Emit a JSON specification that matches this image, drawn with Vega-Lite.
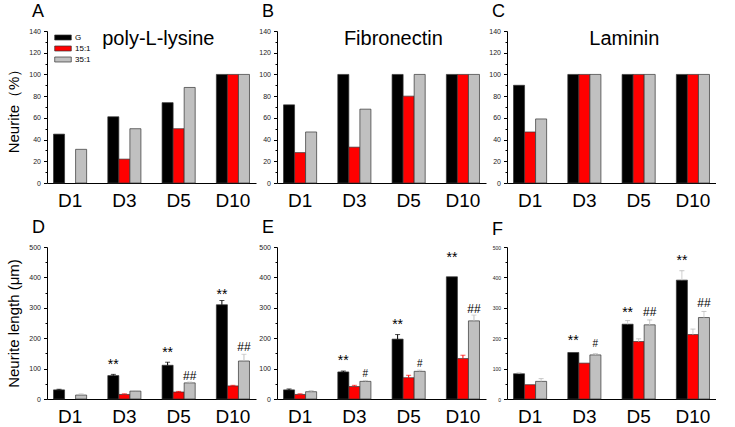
{
  "$schema": "https://vega.github.io/schema/vega-lite/v6.json",
  "padding": {"left": 6, "top": 3, "right": 0, "bottom": 0},
  "background": "white",
  "config": {
    "font": "Liberation Sans",
    "view": {"stroke": null},
    "axis": {"grid": false, "domainColor": "#000", "tickColor": "#000", "labelColor": "#222", "titleColor": "#000", "domainWidth": 1},
    "axisX": {"labelAngle": 0, "labelFontSize": 19, "ticks": false, "labelPadding": 8, "labelColor": "#000"},
    "axisY": {"labelFontSize": 7, "labelPadding": 3, "titleFontSize": 15, "titleFontWeight": "normal", "titlePadding": 7, "labelOverlap": false},
    "title": {"fontSize": 18, "fontWeight": "normal", "anchor": "start", "frame": "group", "dx": -15, "offset": 6, "color": "#000"},
    "legend": {"orient": "none", "legendX": 7, "legendY": 2, "padding": 0, "symbolType": "M-1,-0.3H1V0.3H-1Z", "symbolSize": 275, "symbolStrokeColor": "#333", "symbolStrokeWidth": 0.7, "symbolOpacity": 1, "labelFontSize": 8, "labelOffset": 3, "clipHeight": 9, "rowPadding": 2}
  },
  "datasets": {
    "pct": [
      {"panel": "A", "day": "D1", "group": "G", "v": 45},
      {"panel": "A", "day": "D1", "group": "35:1", "v": 31},
      {"panel": "A", "day": "D3", "group": "G", "v": 61},
      {"panel": "A", "day": "D3", "group": "15:1", "v": 22},
      {"panel": "A", "day": "D3", "group": "35:1", "v": 50},
      {"panel": "A", "day": "D5", "group": "G", "v": 74},
      {"panel": "A", "day": "D5", "group": "15:1", "v": 50},
      {"panel": "A", "day": "D5", "group": "35:1", "v": 88},
      {"panel": "A", "day": "D10", "group": "G", "v": 100},
      {"panel": "A", "day": "D10", "group": "15:1", "v": 100},
      {"panel": "A", "day": "D10", "group": "35:1", "v": 100},
      {"panel": "B", "day": "D1", "group": "G", "v": 72},
      {"panel": "B", "day": "D1", "group": "15:1", "v": 28},
      {"panel": "B", "day": "D1", "group": "35:1", "v": 47},
      {"panel": "B", "day": "D3", "group": "G", "v": 100},
      {"panel": "B", "day": "D3", "group": "15:1", "v": 33},
      {"panel": "B", "day": "D3", "group": "35:1", "v": 68},
      {"panel": "B", "day": "D5", "group": "G", "v": 100},
      {"panel": "B", "day": "D5", "group": "15:1", "v": 80},
      {"panel": "B", "day": "D5", "group": "35:1", "v": 100},
      {"panel": "B", "day": "D10", "group": "G", "v": 100},
      {"panel": "B", "day": "D10", "group": "15:1", "v": 100},
      {"panel": "B", "day": "D10", "group": "35:1", "v": 100},
      {"panel": "C", "day": "D1", "group": "G", "v": 90},
      {"panel": "C", "day": "D1", "group": "15:1", "v": 47},
      {"panel": "C", "day": "D1", "group": "35:1", "v": 59},
      {"panel": "C", "day": "D3", "group": "G", "v": 100},
      {"panel": "C", "day": "D3", "group": "15:1", "v": 100},
      {"panel": "C", "day": "D3", "group": "35:1", "v": 100},
      {"panel": "C", "day": "D5", "group": "G", "v": 100},
      {"panel": "C", "day": "D5", "group": "15:1", "v": 100},
      {"panel": "C", "day": "D5", "group": "35:1", "v": 100},
      {"panel": "C", "day": "D10", "group": "G", "v": 100},
      {"panel": "C", "day": "D10", "group": "15:1", "v": 100},
      {"panel": "C", "day": "D10", "group": "35:1", "v": 100}
    ],
    "len": [
      {"panel": "D", "day": "D1", "group": "G", "v": 30, "hi": 32},
      {"panel": "D", "day": "D1", "group": "35:1", "v": 13, "hi": 17},
      {"panel": "D", "day": "D3", "group": "G", "v": 77, "hi": 81},
      {"panel": "D", "day": "D3", "group": "15:1", "v": 15, "hi": 17},
      {"panel": "D", "day": "D3", "group": "35:1", "v": 26, "hi": 28},
      {"panel": "D", "day": "D5", "group": "G", "v": 111, "hi": 121},
      {"panel": "D", "day": "D5", "group": "15:1", "v": 23, "hi": 25},
      {"panel": "D", "day": "D5", "group": "35:1", "v": 53, "hi": 56},
      {"panel": "D", "day": "D10", "group": "G", "v": 310, "hi": 324},
      {"panel": "D", "day": "D10", "group": "15:1", "v": 43, "hi": 45},
      {"panel": "D", "day": "D10", "group": "35:1", "v": 125, "hi": 147},
      {"panel": "E", "day": "D1", "group": "G", "v": 30, "hi": 33},
      {"panel": "E", "day": "D1", "group": "15:1", "v": 15, "hi": 17},
      {"panel": "E", "day": "D1", "group": "35:1", "v": 24, "hi": 28},
      {"panel": "E", "day": "D3", "group": "G", "v": 89, "hi": 92},
      {"panel": "E", "day": "D3", "group": "15:1", "v": 41, "hi": 45},
      {"panel": "E", "day": "D3", "group": "35:1", "v": 58, "hi": 61},
      {"panel": "E", "day": "D5", "group": "G", "v": 197, "hi": 212},
      {"panel": "E", "day": "D5", "group": "15:1", "v": 70, "hi": 78},
      {"panel": "E", "day": "D5", "group": "35:1", "v": 91, "hi": 95},
      {"panel": "E", "day": "D10", "group": "G", "v": 402, "hi": null},
      {"panel": "E", "day": "D10", "group": "15:1", "v": 133, "hi": 144},
      {"panel": "E", "day": "D10", "group": "35:1", "v": 257, "hi": 276},
      {"panel": "F", "day": "D1", "group": "G", "v": 83, "hi": 86},
      {"panel": "F", "day": "D1", "group": "15:1", "v": 47, "hi": null},
      {"panel": "F", "day": "D1", "group": "35:1", "v": 58, "hi": 67},
      {"panel": "F", "day": "D3", "group": "G", "v": 153, "hi": null},
      {"panel": "F", "day": "D3", "group": "15:1", "v": 118, "hi": null},
      {"panel": "F", "day": "D3", "group": "35:1", "v": 145, "hi": 149},
      {"panel": "F", "day": "D5", "group": "G", "v": 246, "hi": 258},
      {"panel": "F", "day": "D5", "group": "15:1", "v": 189, "hi": 198},
      {"panel": "F", "day": "D5", "group": "35:1", "v": 244, "hi": 260},
      {"panel": "F", "day": "D10", "group": "G", "v": 391, "hi": 422},
      {"panel": "F", "day": "D10", "group": "15:1", "v": 212, "hi": 230},
      {"panel": "F", "day": "D10", "group": "35:1", "v": 268, "hi": 288}
    ],
    "ann": [
      {"panel": "D", "day": "D3", "group": "G", "label": "**", "ly": 113},
      {"panel": "D", "day": "D5", "group": "G", "label": "**", "ly": 152},
      {"panel": "D", "day": "D10", "group": "G", "label": "**", "ly": 342},
      {"panel": "D", "day": "D5", "group": "35:1", "label": "##", "ly": 77},
      {"panel": "D", "day": "D10", "group": "35:1", "label": "##", "ly": 171},
      {"panel": "E", "day": "D3", "group": "G", "label": "**", "ly": 124},
      {"panel": "E", "day": "D3", "group": "35:1", "label": "#", "ly": 82},
      {"panel": "E", "day": "D5", "group": "G", "label": "**", "ly": 245},
      {"panel": "E", "day": "D5", "group": "35:1", "label": "#", "ly": 116},
      {"panel": "E", "day": "D10", "group": "G", "label": "**", "ly": 463},
      {"panel": "E", "day": "D10", "group": "35:1", "label": "##", "ly": 297},
      {"panel": "F", "day": "D3", "group": "G", "label": "**", "ly": 191},
      {"panel": "F", "day": "D3", "group": "35:1", "label": "#", "ly": 182},
      {"panel": "F", "day": "D5", "group": "G", "label": "**", "ly": 284},
      {"panel": "F", "day": "D5", "group": "35:1", "label": "##", "ly": 287},
      {"panel": "F", "day": "D10", "group": "G", "label": "**", "ly": 454},
      {"panel": "F", "day": "D10", "group": "35:1", "label": "##", "ly": 316}
    ],
    "names": [
      {"panel": "A", "name": "poly-L-lysine"},
      {"panel": "B", "name": "Fibronectin"},
      {"panel": "C", "name": "Laminin"}
    ]
  },
  "columns": 3,
  "spacing": {"row": 64, "column": 21},
  "bounds": "flush",
  "resolve": {"scale": {"x": "independent", "y": "independent", "color": "independent", "xOffset": "independent"}, "legend": {"color": "independent"}},
  "concat": [
    {
      "width": 209, "height": 152,
      "title": {"text": "A"},
      "layer": [
        {
          "data": {"name": "pct"},
          "transform": [{"filter": "datum.panel === 'A'"}],
          "mark": {"type": "bar", "stroke": "#333", "strokeWidth": 0.7},
          "encoding": {
            "x": {"field": "day", "type": "nominal", "sort": ["D1", "D3", "D5", "D10"], "scale": {"paddingInner": 0.39, "paddingOuter": 0.12}, "axis": {"title": null}},
            "xOffset": {"field": "group", "type": "nominal", "sort": ["G", "15:1", "35:1"], "scale": {"domain": ["G", "15:1", "35:1"], "paddingInner": 0, "paddingOuter": 0}},
            "y": {"field": "v", "type": "quantitative", "stack": null, "scale": {"domain": [0, 140], "nice": false}, "axis": {"values": [0, 10, 20, 30, 40, 50, 60, 70, 80, 90, 100, 110, 120, 130, 140], "labelExpr": "datum.value % 20 === 0 ? datum.label : ''", "tickSize": {"condition": {"test": "datum.value % 20 === 0", "value": 3.5}, "value": 2}, "labelOverlap": false, "title": "Neurite（%）"}},
            "color": {"field": "group", "type": "nominal", "scale": {"domain": ["G", "15:1", "35:1"], "range": ["#000000", "#ff0000", "#c0c0c0"]}, "legend": {"title": null}}
          }
        },
        {
          "data": {"name": "names"},
          "transform": [{"filter": "datum.panel === 'A'"}],
          "mark": {"type": "text", "fontSize": 20, "baseline": "alphabetic", "align": "center", "dx": 34},
          "encoding": {
            "x": {"datum": "D3", "type": "nominal", "axis": {"title": null}},
            "y": {"datum": 127, "type": "quantitative", "axis": {"values": [0, 10, 20, 30, 40, 50, 60, 70, 80, 90, 100, 110, 120, 130, 140], "labelExpr": "datum.value % 20 === 0 ? datum.label : ''", "tickSize": {"condition": {"test": "datum.value % 20 === 0", "value": 3.5}, "value": 2}, "labelOverlap": false, "title": "Neurite（%）"}},
            "text": {"field": "name"}
          }
        }
      ]
    },
    {
      "width": 209, "height": 152,
      "title": {"text": "B"},
      "layer": [
        {
          "data": {"name": "pct"},
          "transform": [{"filter": "datum.panel === 'B'"}],
          "mark": {"type": "bar", "stroke": "#333", "strokeWidth": 0.7},
          "encoding": {
            "x": {"field": "day", "type": "nominal", "sort": ["D1", "D3", "D5", "D10"], "scale": {"paddingInner": 0.39, "paddingOuter": 0.12}, "axis": {"title": null}},
            "xOffset": {"field": "group", "type": "nominal", "sort": ["G", "15:1", "35:1"], "scale": {"domain": ["G", "15:1", "35:1"], "paddingInner": 0, "paddingOuter": 0}},
            "y": {"field": "v", "type": "quantitative", "stack": null, "scale": {"domain": [0, 140], "nice": false}, "axis": {"values": [0, 10, 20, 30, 40, 50, 60, 70, 80, 90, 100, 110, 120, 130, 140], "labelExpr": "datum.value % 20 === 0 ? datum.label : ''", "tickSize": {"condition": {"test": "datum.value % 20 === 0", "value": 3.5}, "value": 2}, "labelOverlap": false, "title": null}},
            "color": {"field": "group", "type": "nominal", "scale": {"domain": ["G", "15:1", "35:1"], "range": ["#000000", "#ff0000", "#c0c0c0"]}, "legend": null}
          }
        },
        {
          "data": {"name": "names"},
          "transform": [{"filter": "datum.panel === 'B'"}],
          "mark": {"type": "text", "fontSize": 20, "baseline": "alphabetic", "align": "center", "dx": 39},
          "encoding": {
            "x": {"datum": "D3", "type": "nominal", "axis": {"title": null}},
            "y": {"datum": 127, "type": "quantitative", "axis": {"values": [0, 10, 20, 30, 40, 50, 60, 70, 80, 90, 100, 110, 120, 130, 140], "labelExpr": "datum.value % 20 === 0 ? datum.label : ''", "tickSize": {"condition": {"test": "datum.value % 20 === 0", "value": 3.5}, "value": 2}, "labelOverlap": false, "title": null}},
            "text": {"field": "name"}
          }
        }
      ]
    },
    {
      "width": 209, "height": 152,
      "title": {"text": "C"},
      "layer": [
        {
          "data": {"name": "pct"},
          "transform": [{"filter": "datum.panel === 'C'"}],
          "mark": {"type": "bar", "stroke": "#333", "strokeWidth": 0.7},
          "encoding": {
            "x": {"field": "day", "type": "nominal", "sort": ["D1", "D3", "D5", "D10"], "scale": {"paddingInner": 0.39, "paddingOuter": 0.12}, "axis": {"title": null}},
            "xOffset": {"field": "group", "type": "nominal", "sort": ["G", "15:1", "35:1"], "scale": {"domain": ["G", "15:1", "35:1"], "paddingInner": 0, "paddingOuter": 0}},
            "y": {"field": "v", "type": "quantitative", "stack": null, "scale": {"domain": [0, 140], "nice": false}, "axis": {"values": [0, 10, 20, 30, 40, 50, 60, 70, 80, 90, 100, 110, 120, 130, 140], "labelExpr": "datum.value % 20 === 0 ? datum.label : ''", "tickSize": {"condition": {"test": "datum.value % 20 === 0", "value": 3.5}, "value": 2}, "labelOverlap": false, "title": null}},
            "color": {"field": "group", "type": "nominal", "scale": {"domain": ["G", "15:1", "35:1"], "range": ["#000000", "#ff0000", "#c0c0c0"]}, "legend": null}
          }
        },
        {
          "data": {"name": "names"},
          "transform": [{"filter": "datum.panel === 'C'"}],
          "mark": {"type": "text", "fontSize": 20, "baseline": "alphabetic", "align": "center", "dx": 40},
          "encoding": {
            "x": {"datum": "D3", "type": "nominal", "axis": {"title": null}},
            "y": {"datum": 127, "type": "quantitative", "axis": {"values": [0, 10, 20, 30, 40, 50, 60, 70, 80, 90, 100, 110, 120, 130, 140], "labelExpr": "datum.value % 20 === 0 ? datum.label : ''", "tickSize": {"condition": {"test": "datum.value % 20 === 0", "value": 3.5}, "value": 2}, "labelOverlap": false, "title": null}},
            "text": {"field": "name"}
          }
        }
      ]
    },
    {
      "width": 209, "height": 152,
      "title": {"text": "D"},
      "layer": [
        {
          "data": {"name": "len"},
          "transform": [{"filter": "datum.panel === 'D'"}],
          "mark": {"type": "bar", "stroke": "#333", "strokeWidth": 0.7},
          "encoding": {
            "x": {"field": "day", "type": "nominal", "sort": ["D1", "D3", "D5", "D10"], "scale": {"paddingInner": 0.39, "paddingOuter": 0.12}, "axis": {"title": null}},
            "xOffset": {"field": "group", "type": "nominal", "sort": ["G", "15:1", "35:1"], "scale": {"domain": ["G", "15:1", "35:1"], "paddingInner": 0, "paddingOuter": 0}},
            "y": {"field": "v", "type": "quantitative", "stack": null, "scale": {"domain": [0, 500], "nice": false}, "axis": {"values": [0, 50, 100, 150, 200, 250, 300, 350, 400, 450, 500], "labelExpr": "datum.value % 100 === 0 ? datum.label : ''", "tickSize": {"condition": {"test": "datum.value % 100 === 0", "value": 3.5}, "value": 2}, "labelOverlap": false, "title": "Neurite length (μm)"}},
            "color": {"field": "group", "type": "nominal", "scale": {"domain": ["G", "15:1", "35:1"], "range": ["#000000", "#ff0000", "#c0c0c0"]}, "legend": null}
          }
        },
        {
          "data": {"name": "len"},
          "transform": [{"filter": "datum.panel === 'D' && datum.hi != null"}],
          "mark": {"type": "rule", "strokeWidth": 1},
          "encoding": {
            "x": {"field": "day", "type": "nominal", "sort": ["D1", "D3", "D5", "D10"], "axis": {"title": null}},
            "xOffset": {"field": "group", "type": "nominal", "sort": ["G", "15:1", "35:1"]},
            "y": {"field": "v", "type": "quantitative", "axis": {"values": [0, 50, 100, 150, 200, 250, 300, 350, 400, 450, 500], "labelExpr": "datum.value % 100 === 0 ? datum.label : ''", "tickSize": {"condition": {"test": "datum.value % 100 === 0", "value": 3.5}, "value": 2}, "labelOverlap": false, "title": "Neurite length (μm)"}},
            "y2": {"field": "hi"},
            "color": {"field": "group", "type": "nominal", "legend": null}
          }
        },
        {
          "data": {"name": "len"},
          "transform": [{"filter": "datum.panel === 'D' && datum.hi != null"}],
          "mark": {"type": "tick", "thickness": 1, "size": 5},
          "encoding": {
            "x": {"field": "day", "type": "nominal", "sort": ["D1", "D3", "D5", "D10"], "axis": {"title": null}},
            "xOffset": {"field": "group", "type": "nominal", "sort": ["G", "15:1", "35:1"]},
            "y": {"field": "hi", "type": "quantitative", "axis": {"values": [0, 50, 100, 150, 200, 250, 300, 350, 400, 450, 500], "labelExpr": "datum.value % 100 === 0 ? datum.label : ''", "tickSize": {"condition": {"test": "datum.value % 100 === 0", "value": 3.5}, "value": 2}, "labelOverlap": false, "title": "Neurite length (μm)"}},
            "color": {"field": "group", "type": "nominal", "legend": null}
          }
        },
        {
          "data": {"name": "ann"},
          "transform": [{"filter": "datum.panel === 'D'"}],
          "mark": {"type": "text", "baseline": "middle", "align": "center", "color": "#000"},
          "encoding": {
            "x": {"field": "day", "type": "nominal", "sort": ["D1", "D3", "D5", "D10"], "axis": {"title": null}},
            "xOffset": {"field": "group", "type": "nominal", "sort": ["G", "15:1", "35:1"]},
            "y": {"field": "ly", "type": "quantitative", "axis": {"values": [0, 50, 100, 150, 200, 250, 300, 350, 400, 450, 500], "labelExpr": "datum.value % 100 === 0 ? datum.label : ''", "tickSize": {"condition": {"test": "datum.value % 100 === 0", "value": 3.5}, "value": 2}, "labelOverlap": false, "title": "Neurite length (μm)"}},
            "text": {"field": "label"},
            "size": {"field": "label", "type": "nominal", "scale": {"domain": ["**", "##", "#"], "range": [14, 10, 10]}, "legend": null}
          }
        }
      ]
    },
    {
      "width": 209, "height": 152,
      "title": {"text": "E"},
      "layer": [
        {
          "data": {"name": "len"},
          "transform": [{"filter": "datum.panel === 'E'"}],
          "mark": {"type": "bar", "stroke": "#333", "strokeWidth": 0.7},
          "encoding": {
            "x": {"field": "day", "type": "nominal", "sort": ["D1", "D3", "D5", "D10"], "scale": {"paddingInner": 0.39, "paddingOuter": 0.12}, "axis": {"title": null}},
            "xOffset": {"field": "group", "type": "nominal", "sort": ["G", "15:1", "35:1"], "scale": {"domain": ["G", "15:1", "35:1"], "paddingInner": 0, "paddingOuter": 0}},
            "y": {"field": "v", "type": "quantitative", "stack": null, "scale": {"domain": [0, 500], "nice": false}, "axis": {"values": [0, 50, 100, 150, 200, 250, 300, 350, 400, 450, 500], "labelExpr": "datum.value % 100 === 0 ? datum.label : ''", "tickSize": {"condition": {"test": "datum.value % 100 === 0", "value": 3.5}, "value": 2}, "labelOverlap": false, "title": null}},
            "color": {"field": "group", "type": "nominal", "scale": {"domain": ["G", "15:1", "35:1"], "range": ["#000000", "#ff0000", "#c0c0c0"]}, "legend": null}
          }
        },
        {
          "data": {"name": "len"},
          "transform": [{"filter": "datum.panel === 'E' && datum.hi != null"}],
          "mark": {"type": "rule", "strokeWidth": 1},
          "encoding": {
            "x": {"field": "day", "type": "nominal", "sort": ["D1", "D3", "D5", "D10"], "axis": {"title": null}},
            "xOffset": {"field": "group", "type": "nominal", "sort": ["G", "15:1", "35:1"]},
            "y": {"field": "v", "type": "quantitative", "axis": {"values": [0, 50, 100, 150, 200, 250, 300, 350, 400, 450, 500], "labelExpr": "datum.value % 100 === 0 ? datum.label : ''", "tickSize": {"condition": {"test": "datum.value % 100 === 0", "value": 3.5}, "value": 2}, "labelOverlap": false, "title": null}},
            "y2": {"field": "hi"},
            "color": {"field": "group", "type": "nominal", "legend": null}
          }
        },
        {
          "data": {"name": "len"},
          "transform": [{"filter": "datum.panel === 'E' && datum.hi != null"}],
          "mark": {"type": "tick", "thickness": 1, "size": 5},
          "encoding": {
            "x": {"field": "day", "type": "nominal", "sort": ["D1", "D3", "D5", "D10"], "axis": {"title": null}},
            "xOffset": {"field": "group", "type": "nominal", "sort": ["G", "15:1", "35:1"]},
            "y": {"field": "hi", "type": "quantitative", "axis": {"values": [0, 50, 100, 150, 200, 250, 300, 350, 400, 450, 500], "labelExpr": "datum.value % 100 === 0 ? datum.label : ''", "tickSize": {"condition": {"test": "datum.value % 100 === 0", "value": 3.5}, "value": 2}, "labelOverlap": false, "title": null}},
            "color": {"field": "group", "type": "nominal", "legend": null}
          }
        },
        {
          "data": {"name": "ann"},
          "transform": [{"filter": "datum.panel === 'E'"}],
          "mark": {"type": "text", "baseline": "middle", "align": "center", "color": "#000"},
          "encoding": {
            "x": {"field": "day", "type": "nominal", "sort": ["D1", "D3", "D5", "D10"], "axis": {"title": null}},
            "xOffset": {"field": "group", "type": "nominal", "sort": ["G", "15:1", "35:1"]},
            "y": {"field": "ly", "type": "quantitative", "axis": {"values": [0, 50, 100, 150, 200, 250, 300, 350, 400, 450, 500], "labelExpr": "datum.value % 100 === 0 ? datum.label : ''", "tickSize": {"condition": {"test": "datum.value % 100 === 0", "value": 3.5}, "value": 2}, "labelOverlap": false, "title": null}},
            "text": {"field": "label"},
            "size": {"field": "label", "type": "nominal", "scale": {"domain": ["**", "##", "#"], "range": [14, 10, 10]}, "legend": null}
          }
        }
      ]
    },
    {
      "width": 209, "height": 152,
      "title": {"text": "F"},
      "layer": [
        {
          "data": {"name": "len"},
          "transform": [{"filter": "datum.panel === 'F'"}],
          "mark": {"type": "bar", "stroke": "#333", "strokeWidth": 0.7},
          "encoding": {
            "x": {"field": "day", "type": "nominal", "sort": ["D1", "D3", "D5", "D10"], "scale": {"paddingInner": 0.39, "paddingOuter": 0.12}, "axis": {"title": null}},
            "xOffset": {"field": "group", "type": "nominal", "sort": ["G", "15:1", "35:1"], "scale": {"domain": ["G", "15:1", "35:1"], "paddingInner": 0, "paddingOuter": 0}},
            "y": {"field": "v", "type": "quantitative", "stack": null, "scale": {"domain": [0, 500], "nice": false}, "axis": {"values": [0, 50, 100, 150, 200, 250, 300, 350, 400, 450, 500], "labelExpr": "datum.value % 100 === 0 ? datum.label : ''", "tickSize": {"condition": {"test": "datum.value % 100 === 0", "value": 3.5}, "value": 2}, "labelOverlap": false, "title": null, "labelFontSize": 5}},
            "color": {"field": "group", "type": "nominal", "scale": {"domain": ["G", "15:1", "35:1"], "range": ["#000000", "#ff0000", "#c0c0c0"]}, "legend": null}
          }
        },
        {
          "data": {"name": "len"},
          "transform": [{"filter": "datum.panel === 'F' && datum.hi != null"}],
          "mark": {"type": "rule", "strokeWidth": 1, "color": "#d0d0d0"},
          "encoding": {
            "x": {"field": "day", "type": "nominal", "sort": ["D1", "D3", "D5", "D10"], "axis": {"title": null}},
            "xOffset": {"field": "group", "type": "nominal", "sort": ["G", "15:1", "35:1"]},
            "y": {"field": "v", "type": "quantitative", "axis": {"values": [0, 50, 100, 150, 200, 250, 300, 350, 400, 450, 500], "labelExpr": "datum.value % 100 === 0 ? datum.label : ''", "tickSize": {"condition": {"test": "datum.value % 100 === 0", "value": 3.5}, "value": 2}, "labelOverlap": false, "title": null, "labelFontSize": 5}},
            "y2": {"field": "hi"}
          }
        },
        {
          "data": {"name": "len"},
          "transform": [{"filter": "datum.panel === 'F' && datum.hi != null"}],
          "mark": {"type": "tick", "thickness": 1, "size": 5, "color": "#b0b0b0"},
          "encoding": {
            "x": {"field": "day", "type": "nominal", "sort": ["D1", "D3", "D5", "D10"], "axis": {"title": null}},
            "xOffset": {"field": "group", "type": "nominal", "sort": ["G", "15:1", "35:1"]},
            "y": {"field": "hi", "type": "quantitative", "axis": {"values": [0, 50, 100, 150, 200, 250, 300, 350, 400, 450, 500], "labelExpr": "datum.value % 100 === 0 ? datum.label : ''", "tickSize": {"condition": {"test": "datum.value % 100 === 0", "value": 3.5}, "value": 2}, "labelOverlap": false, "title": null, "labelFontSize": 5}}
          }
        },
        {
          "data": {"name": "ann"},
          "transform": [{"filter": "datum.panel === 'F'"}],
          "mark": {"type": "text", "baseline": "middle", "align": "center", "color": "#000"},
          "encoding": {
            "x": {"field": "day", "type": "nominal", "sort": ["D1", "D3", "D5", "D10"], "axis": {"title": null}},
            "xOffset": {"field": "group", "type": "nominal", "sort": ["G", "15:1", "35:1"]},
            "y": {"field": "ly", "type": "quantitative", "axis": {"values": [0, 50, 100, 150, 200, 250, 300, 350, 400, 450, 500], "labelExpr": "datum.value % 100 === 0 ? datum.label : ''", "tickSize": {"condition": {"test": "datum.value % 100 === 0", "value": 3.5}, "value": 2}, "labelOverlap": false, "title": null, "labelFontSize": 5}},
            "text": {"field": "label"},
            "size": {"field": "label", "type": "nominal", "scale": {"domain": ["**", "##", "#"], "range": [14, 10, 10]}, "legend": null}
          }
        }
      ]
    }
  ]
}
